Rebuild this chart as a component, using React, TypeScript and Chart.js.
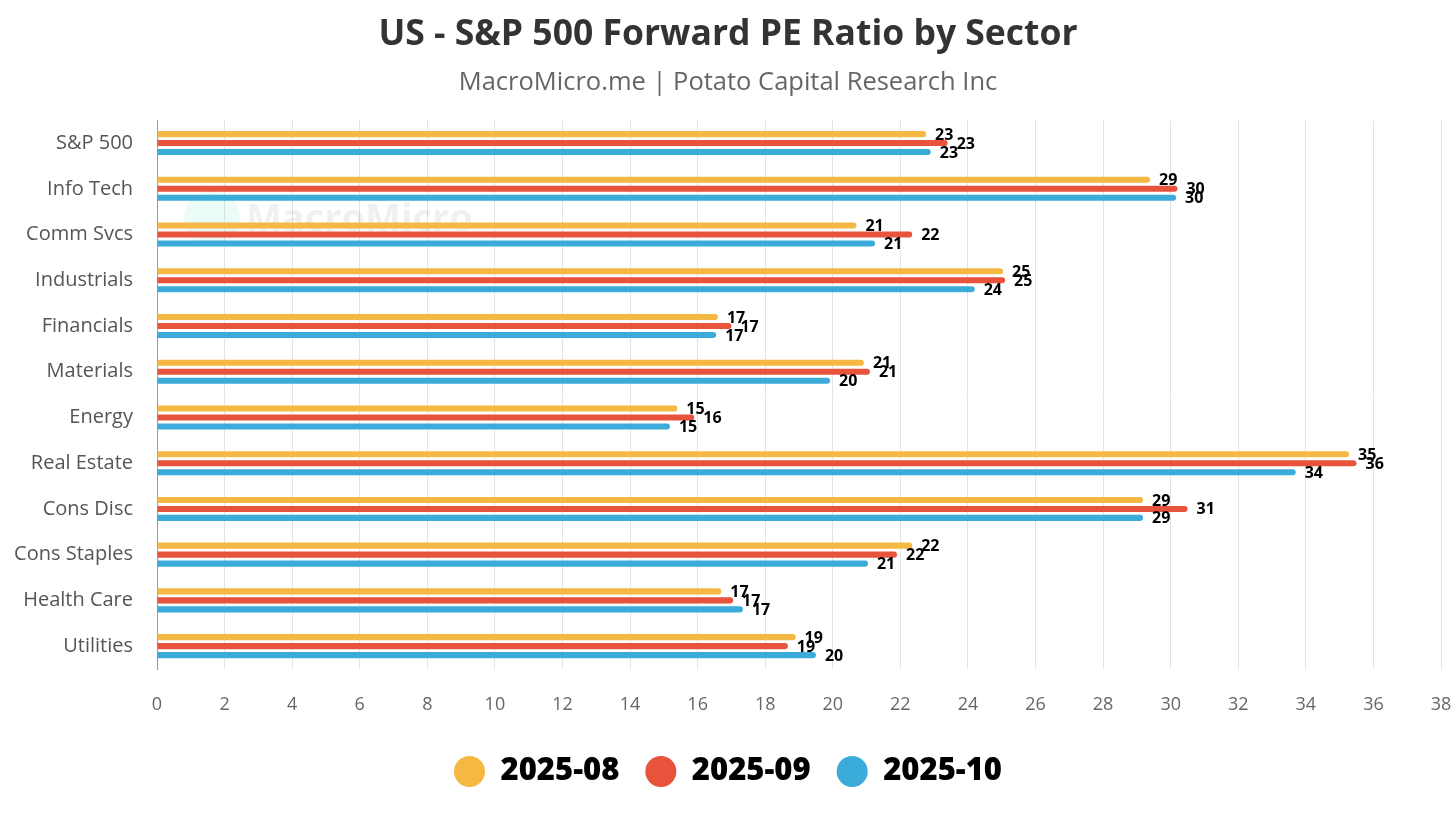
import React, { useEffect, useRef } from "react";
import { Chart, registerables } from "chart.js";

Chart.register(...registerables);

const categories = [
  "S&P 500",
  "Info Tech",
  "Comm Svcs",
  "Industrials",
  "Financials",
  "Materials",
  "Energy",
  "Real Estate",
  "Cons Disc",
  "Cons Staples",
  "Health Care",
  "Utilities",
];

const series202508 = [22.76, 29.39, 20.7, 25.04, 16.6, 20.92, 15.4, 35.28, 29.18, 22.35, 16.7, 18.9];
const series202509 = [23.4, 30.2, 22.35, 25.1, 17.0, 21.1, 15.9, 35.5, 30.5, 21.9, 17.05, 18.67];
const series202510 = [22.9, 30.16, 21.25, 24.2, 16.55, 19.92, 15.18, 33.7, 29.18, 21.04, 17.34, 19.5];

const seriesLabels = ["2025-08", "2025-09", "2025-10"];
const seriesColors = ["#F5B843", "#E8533B", "#3BABDA"];

const xMin = 0;
const xMax = 38;
const xStep = 2;

const valueLabelPlugin = {
  id: "valueLabels",
  afterDatasetsDraw(chart: any) {
    const ctx = chart.ctx;
    ctx.save();
    ctx.font = "bold 16px 'Open Sans', sans-serif";
    ctx.fillStyle = "#000";
    ctx.textBaseline = "middle";
    ctx.textAlign = "left";
    chart.data.datasets.forEach((ds: any, i: number) => {
      const meta = chart.getDatasetMeta(i);
      meta.data.forEach((el: any, j: number) => {
        const v = ds.data[j];
        ctx.fillText(String(Math.round(v)), el.x + 9, el.y + 1);
      });
    });
    ctx.restore();
  },
};

const watermarkPlugin = {
  id: "watermark",
  beforeDatasetsDraw(chart: any) {
    const ctx = chart.ctx;
    const area = chart.chartArea;
    ctx.save();
    const cx = area.left + 55;
    const cy = area.top + 98;
    ctx.fillStyle = "rgba(80, 220, 200, 0.12)";
    ctx.beginPath();
    ctx.arc(cx, cy, 28, 0, Math.PI * 2);
    ctx.fill();
    ctx.font = "bold 38px 'Open Sans', sans-serif";
    ctx.fillStyle = "rgba(0,0,0,0.06)";
    ctx.textBaseline = "middle";
    ctx.fillText("MacroMicro", cx + 34, cy + 2);
    ctx.restore();
  },
};

export default function App() {
  const canvasRef = useRef<HTMLCanvasElement | null>(null);

  useEffect(() => {
    document.body.style.margin = "0";
    const canvas = canvasRef.current;
    if (!canvas) return;
    const chart = new Chart(canvas, {
      type: "bar",
      data: {
        labels: categories,
        datasets: [series202508, series202509, series202510].map((d, i) => ({
          label: seriesLabels[i],
          data: d,
          backgroundColor: seriesColors[i],
          borderColor: seriesColors[i],
          borderWidth: 0,
          borderRadius: 3,
          categoryPercentage: 0.59,
          barPercentage: 0.68,
        })),
      },
      options: {
        indexAxis: "y",
        animation: false,
        responsive: false,
        maintainAspectRatio: false,
        layout: { padding: { left: 0, right: 0, top: 0, bottom: 22 } },
        plugins: {
          title: {
            display: true,
            text: "US - S&P 500 Forward PE Ratio by Sector",
            color: "#333333",
            font: { family: "'Open Sans', sans-serif", size: 35.5, weight: "bold" },
            padding: { top: 14, bottom: 11 },
          },
          subtitle: {
            display: true,
            text: "MacroMicro.me | Potato Capital Research Inc",
            color: "#666666",
            font: { family: "'Open Sans', sans-serif", size: 25.5 },
            padding: { top: 0, bottom: 22 },
          },
          legend: {
            display: true,
            position: "bottom",
            labels: {
              usePointStyle: true,
              pointStyle: "circle",
              pointStyleWidth: 31,
              boxHeight: 22,
              color: "#000",
              padding: 26,
              font: { family: "'Open Sans', sans-serif", size: 31, weight: 800 },
            },
          },
          tooltip: { enabled: false },
        },
        scales: {
          x: {
            type: "linear",
            min: xMin,
            max: xMax,
            afterFit(scale: any) {
              scale.paddingRight = 15;
              scale.paddingLeft = 0;
              scale.height = 61;
            },
            ticks: {
              stepSize: xStep,
              color: "#666666",
              font: { family: "'Open Sans', sans-serif", size: 18, lineHeight: "26px" },
              padding: 23,
            },
            grid: { color: "#e3e3e3", lineWidth: 1, drawTicks: false },
            border: { display: false },
          },
          y: {
            afterFit(scale: any) {
              scale.width = 157;
            },
            ticks: {
              color: "#555555",
              font: { family: "'Open Sans', sans-serif", size: 20 },
              padding: 24,
            },
            grid: { display: false, drawTicks: false },
            border: { display: true, color: "#999999", dash: [3, 3], width: 1 },
          },
        },
      },
      plugins: [valueLabelPlugin, watermarkPlugin],
    });
    return () => chart.destroy();
  }, []);

  return (
    <div style={{ width: 1456, height: 819, background: "#fff" }}>
      <canvas ref={canvasRef} width={1456} height={819} style={{ width: 1456, height: 819 }} />
    </div>
  );
}
